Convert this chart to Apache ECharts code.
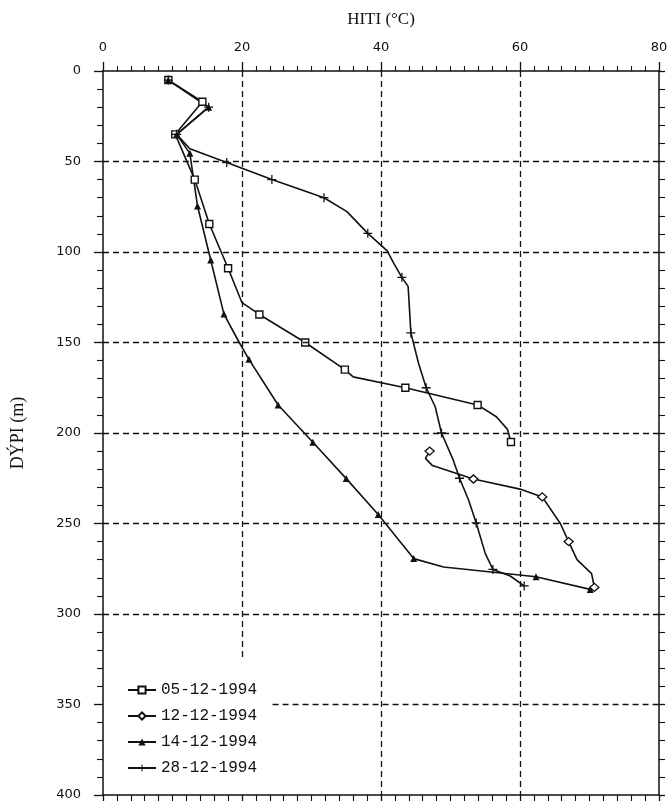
<!DOCTYPE html>
<html>
<head>
<meta charset="utf-8">
<script src="https://cdn.jsdelivr.net/npm/echarts@6/dist/echarts.min.js"></script>
<style>
  html, body { margin: 0; padding: 0; background: #fff; }
  #chart { width: 671px; height: 803px; }
</style>
</head>
<body>
<div id="chart"></div>
<script>
// Temperature (°C) against depth (m) for four measuring dates.
// mark = 1: a plotted reading with its symbol; 0: a point on the drawn curve only.
const temp0512 = [9.4, 14.3, 10.4, 13.2, 15.3, 18.0, 20.0, 22.5, 29.1, 34.8, 36.0, 43.5, 53.9, 56.6, 58.2, 58.7];
const depth0512 = [5, 17, 35, 60, 84.5, 109, 128, 134.5, 150, 165, 169, 175, 184.5, 191, 198, 205];
const mark0512 = [1, 1, 1, 1, 1, 1, 0, 1, 1, 1, 0, 1, 1, 0, 0, 1];

const temp1212 = [47.0, 46.4, 47.4, 53.3, 60.0, 63.2, 65.8, 67.0, 68.2, 70.3, 70.7];
const depth1212 = [210, 214, 218, 225.4, 231, 235.3, 250, 260, 270, 277.7, 285.3];
const mark1212 = [1, 0, 0, 1, 0, 1, 0, 1, 0, 0, 1];

const temp1412 = [9.4, 15.2, 10.6, 12.5, 13.6, 15.5, 17.4, 19.6, 21.0, 25.2, 30.2, 35.0, 39.6, 44.7, 49.0, 62.3, 70.1];
const depth1412 = [5, 20, 35, 45.5, 74.6, 104.4, 134.3, 150, 159.3, 184.5, 205.1, 225.2, 245, 269.4, 274, 279.4, 286.4];
const mark1412 = [1, 1, 1, 1, 1, 1, 1, 0, 1, 1, 1, 1, 1, 1, 0, 1, 1];

const temp2812 = [9.4, 15.2, 10.6, 12.5, 17.8, 24.3, 31.8, 35.1, 38.1, 40.9, 41.8, 43.0, 43.9, 44.3, 45.4, 46.5, 47.8, 48.7, 50.4, 51.3, 52.6, 53.7, 55.0, 56.1, 58.6, 60.6];
const depth2812 = [5, 20, 35, 43, 50.6, 60, 70, 77.7, 89.7, 99.4, 106, 114, 119, 144.7, 161.5, 175, 185.5, 200, 215, 225, 237, 249.7, 266.5, 275.4, 279, 284.5];
const mark2812 = [1, 1, 1, 0, 1, 1, 1, 0, 1, 0, 0, 1, 0, 1, 0, 1, 0, 1, 0, 1, 0, 1, 0, 1, 0, 1];

const seriesNames = ['05-12-1994', '12-12-1994', '14-12-1994', '28-12-1994'];

// Axis ranges and tick steps
const tempTicks = [0, 20, 40, 60, 80];
const depthTicks = [0, 50, 100, 150, 200, 250, 300, 350, 400];

// Dashed reference lines: vertical at temperatures (with the depth they reach),
// horizontal at depths (with the temperature they start from).
const gridTemps = [20, 40, 60];
const gridTempEnds = [325, 400, 400];
const gridDepths = [50, 100, 150, 200, 250, 300, 350];
const gridDepthStarts = [0, 0, 0, 0, 0, 0, 24.4];

const PLUS = 'path://M0,4.3H10V5.7H0Z M4.3,0H5.7V10H4.3Z';

function buildData(temps, depths, marks) {
  return temps.map((t, i) => marks[i]
    ? { value: [t, depths[i]] }
    : { value: [t, depths[i]], symbol: 'none' });
}

const ink = '#111';
const tickFont = { color: ink, fontFamily: 'DejaVu Sans', fontSize: 13 };

const markLines = [];
gridTemps.forEach((t, i) => markLines.push([{ coord: [t, 0] }, { coord: [t, gridTempEnds[i]] }]));
gridDepths.forEach((d, i) => markLines.push([{ coord: [gridDepthStarts[i], d] }, { coord: [80, d] }]));

function lineSeries(name, temps, depths, marks, symbol, size, filled) {
  return {
    name: name,
    type: 'line',
    xAxisIndex: 0,
    yAxisIndex: 0,
    data: buildData(temps, depths, marks),
    symbol: symbol,
    symbolSize: size,
    showAllSymbol: true,
    lineStyle: { color: ink, width: 1.6 },
    itemStyle: { color: filled ? ink : '#fff', borderColor: ink, borderWidth: filled ? 0 : 1.4 },
    emphasis: { disabled: true },
    z: 3
  };
}

const chart = echarts.init(document.getElementById('chart'), null, { renderer: 'canvas' });

chart.setOption({
  animation: false,
  backgroundColor: '#fff',
  grid: { left: 103, right: 12, top: 71, bottom: 8 },
  legend: {
    data: seriesNames,
    orient: 'vertical',
    left: 122,
    top: 677,
    itemGap: 10,
    itemWidth: 28,
    itemHeight: 9,
    textStyle: { color: ink, fontFamily: 'Liberation Mono', fontSize: 16 }
  },
  xAxis: [
    {
      type: 'value', position: 'top', min: tempTicks[0], max: tempTicks[tempTicks.length - 1], interval: 20,
      name: 'HITI (°C)', nameLocation: 'middle', nameGap: 43,
      nameTextStyle: { color: ink, fontFamily: 'Liberation Serif', fontSize: 17 },
      axisLine: { onZero: false, lineStyle: { color: ink, width: 1.5 } },
      axisTick: { show: true, length: 9, lineStyle: { color: ink, width: 1.3 } },
      minorTick: { show: true, splitNumber: 10, length: 5, lineStyle: { color: ink, width: 1.1 } },
      axisLabel: Object.assign({ margin: 17 }, tickFont),
      splitLine: { show: false }
    },
    {
      type: 'value', position: 'bottom', min: 0, max: 80, interval: 20,
      axisLine: { onZero: false, lineStyle: { color: ink, width: 1.5 } },
      axisTick: { show: true, length: 6, lineStyle: { color: ink, width: 1.3 } },
      minorTick: { show: true, splitNumber: 10, length: 6, lineStyle: { color: ink, width: 1.1 } },
      axisLabel: { show: false },
      splitLine: { show: false }
    }
  ],
  yAxis: [
    {
      type: 'value', inverse: true, position: 'left', min: depthTicks[0], max: depthTicks[depthTicks.length - 1], interval: 50,
      name: 'DÝPI (m)', nameLocation: 'middle', nameGap: 76, nameRotate: 90,
      nameTextStyle: { color: ink, fontFamily: 'Liberation Serif', fontSize: 18 },
      axisLine: { onZero: false, lineStyle: { color: ink, width: 1.5 } },
      axisTick: { show: true, length: 9, lineStyle: { color: ink, width: 1.3 } },
      minorTick: { show: true, splitNumber: 5, length: 6, lineStyle: { color: ink, width: 1.1 } },
      axisLabel: Object.assign({ margin: 22 }, tickFont),
      splitLine: { show: false }
    },
    {
      type: 'value', inverse: true, position: 'right', min: 0, max: 400, interval: 50,
      axisLine: { onZero: false, lineStyle: { color: ink, width: 1.5 } },
      axisTick: { show: true, length: 6, lineStyle: { color: ink, width: 1.3 } },
      minorTick: { show: true, splitNumber: 5, length: 6, lineStyle: { color: ink, width: 1.1 } },
      axisLabel: { show: false },
      splitLine: { show: false }
    }
  ],
  series: [
    {
      name: 'gridlines',
      type: 'line',
      xAxisIndex: 0,
      yAxisIndex: 0,
      data: [],
      silent: true,
      z: 1,
      markLine: {
        silent: true,
        symbol: ['none', 'none'],
        label: { show: false },
        lineStyle: { color: ink, width: 1.3, type: [6, 4] },
        emphasis: { disabled: true },
        data: markLines
      }
    },
    lineSeries(seriesNames[0], temp0512, depth0512, mark0512, 'rect', 7, false),
    lineSeries(seriesNames[1], temp1212, depth1212, mark1212, 'diamond', [9, 8], false),
    lineSeries(seriesNames[2], temp1412, depth1412, mark1412, 'triangle', 7, true),
    lineSeries(seriesNames[3], temp2812, depth2812, mark2812, PLUS, 9, true)
  ]
});
</script>
</body>
</html>
